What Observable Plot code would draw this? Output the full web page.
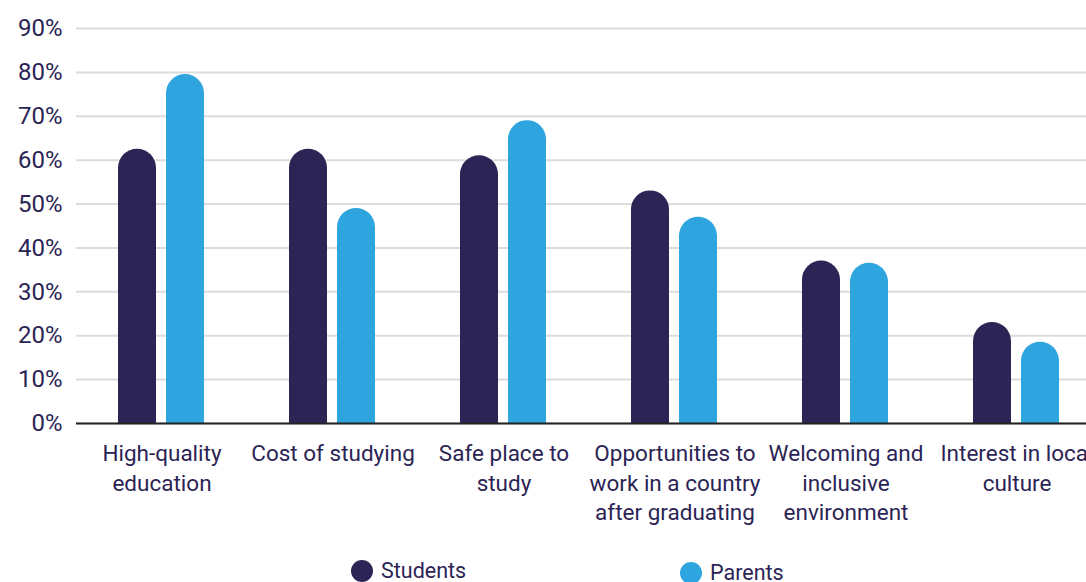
<!DOCTYPE html>
<html><head><meta charset="utf-8">
<script src="https://cdn.jsdelivr.net/npm/d3@7"></script>
<script src="https://cdn.jsdelivr.net/npm/@observablehq/plot@0.6"></script>
<style>
html,body{margin:0;padding:0;background:#fff;overflow:hidden;width:1086px;height:582px;}
#wrap{position:relative;width:1086px;height:582px;overflow:hidden;font-family:Roboto, sans-serif;color:#2b2455}
#chart{position:absolute;left:0;top:0;width:1102px}
#chart svg{max-width:none !important}
.leg{position:absolute;font-size:21.5px;display:flex;align-items:center;line-height:22px;white-space:nowrap}
.sw{width:22px;height:22px;border-radius:50%;margin-right:8px;flex:none}
</style></head><body><div id="wrap"><div id="chart"></div></div>
<script>
const categories = ["High-quality education", "Cost of studying", "Safe place to study", "Opportunities to work in a country after graduating", "Welcoming and inclusive environment", "Interest in local culture"];
const tickLabels = ["High-quality\neducation", "Cost of studying", "Safe place to\nstudy", "Opportunities to\nwork in a country\nafter graduating", "Welcoming and\ninclusive\nenvironment", "Interest in local\nculture"];
const seriesNames = ["Students", "Parents"];
const students = [62.5, 62.5, 61, 53, 37, 23];
const parents = [79.5, 49, 69, 47, 36.5, 18.5];
const seriesColors = ["#2b2455", "#2ea5de"];
const yTicks = [0, 10, 20, 30, 40, 50, 60, 70, 80, 90];

const navy = "#2b2455";
const sData = categories.map((c, i) => ({cat: c, series: seriesNames[0], value: students[i]}));
const pData = categories.map((c, i) => ({cat: c, series: seriesNames[1], value: parents[i]}));
const labelOf = new Map(categories.map((c, i) => [c, tickLabels[i]]));

const sInset = {insetLeft: 42, insetRight: 91};
const pInset = {insetLeft: 90, insetRight: 43};

const chart = Plot.plot({
  width: 1102,
  height: 540,
  marginLeft: 76,
  marginRight: 0,
  marginTop: 28,
  marginBottom: 117,
  style: {fontFamily: "Roboto, sans-serif", color: navy, background: "transparent", overflow: "visible", maxWidth: "none"},
  x: {domain: categories, padding: 0, axis: null, label: null},
  y: {domain: [0, 90], axis: null, label: null},
  marks: [
    Plot.gridY(yTicks, {stroke: "#dcdcdc", strokeWidth: 2, strokeOpacity: 1}),
    Plot.barY(sData, {x: "cat", y: "value", fill: seriesColors[0], rx: 19, ...sInset}),
    Plot.barY(sData, {x: "cat", y: d => d.value / 2, fill: seriesColors[0], ...sInset}),
    Plot.barY(pData, {x: "cat", y: "value", fill: seriesColors[1], rx: 19, ...pInset}),
    Plot.barY(pData, {x: "cat", y: d => d.value / 2, fill: seriesColors[1], ...pInset}),
    Plot.ruleY([0], {stroke: "#222", strokeWidth: 2}),
    Plot.axisY(yTicks, {label: null, tickSize: 0, tickPadding: 14, tickFormat: d => d + "%", fontSize: 24, fill: navy}),
    Plot.axisX(categories, {label: null, tickSize: 0, tickPadding: 17, tickFormat: d => labelOf.get(d), fontSize: 22.5, lineHeight: 1.31, fill: navy})
  ]
});
document.getElementById("chart").appendChild(chart);

const wrap = document.getElementById("wrap");
const legPos = [[351, 560], [680, 562]];
seriesNames.forEach((name, i) => {
  const d = document.createElement("div");
  d.className = "leg";
  d.style.left = legPos[i][0] + "px";
  d.style.top = legPos[i][1] + "px";
  d.innerHTML = `<span class="sw" style="background:${seriesColors[i]}"></span><span>${name}</span>`;
  wrap.appendChild(d);
});
</script></body></html>
